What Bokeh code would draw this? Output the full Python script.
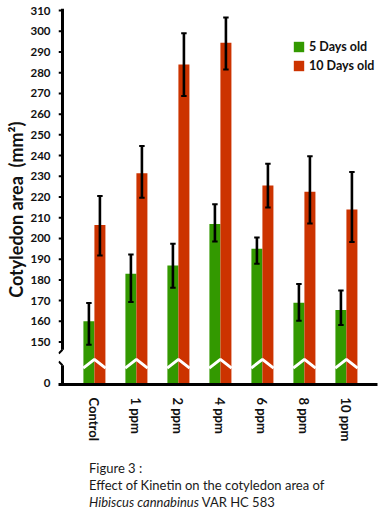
from bokeh.plotting import figure
from bokeh.models import FixedTicker, Legend, LegendItem, Div
from bokeh.layouts import column
from bokeh.embed import file_html
from bokeh.resources import INLINE

# ---------------- data ----------------
categories = ["Control", "1 ppm", "2 ppm", "4 ppm", "6 ppm", "8 ppm", "10 ppm"]
days5 = [160, 183, 187, 207, 195, 169, 165.5]
days5_low = [148.7, 169.3, 176.2, 198.5, 187.8, 160.3, 158.2]
days5_high = [168.8, 192.3, 197.5, 216.5, 200.5, 178, 174.9]
days10 = [206.5, 231.5, 284, 294.5, 225.5, 222.5, 214]
days10_low = [191.8, 219.7, 268.8, 281.5, 214.9, 207.2, 198.3]
days10_high = [220.5, 244.6, 299.1, 306.7, 236.1, 239.7, 232.1]
y_ticks = [150, 160, 170, 180, 190, 200, 210, 220, 230, 240, 250, 260, 270, 280, 290, 300, 310]
zero_pos = 130          # broken axis: position where "0" is shown

# ---------------- styling constants ----------------
GREEN = "#339900"
RED = "#cc3300"
BAR_W = 0.262
Y0, Y1 = 129.5, 311
X0, X1 = -0.855, 6.74
AXIS_X = -0.76
FONT = "Lato"
INK = "#111111"

p = figure(width=391, height=458, x_range=(X0, X1), y_range=(Y0, Y1),
           output_backend="svg", toolbar_location=None,
           min_border_left=58, min_border_right=14, min_border_top=8, min_border_bottom=74)
p.grid.visible = False
p.outline_line_color = None

xs = list(range(len(categories)))
x5 = [x - BAR_W / 2 for x in xs]
x10 = [x + BAR_W / 2 for x in xs]

r5 = p.vbar(x=x5, top=days5, bottom=Y0, width=BAR_W, fill_color=GREEN, line_color=None)
r10 = p.vbar(x=x10, top=days10, bottom=Y0, width=BAR_W, fill_color=RED, line_color=None)

# white zigzag break across each group
brk_lo, brk_hi = 137.4, 141.6
p.multi_line(xs=[[x - BAR_W - 0.005, x, x + BAR_W + 0.005] for x in xs],
             ys=[[brk_lo, brk_hi, brk_lo] for _ in xs], line_color="white", line_width=3)

# error bars
cap = 0.065
for xpos, lo, hi in ((x5, days5_low, days5_high), (x10, days10_low, days10_high)):
    p.segment(x0=xpos, x1=xpos, y0=lo, y1=hi, line_color="black", line_width=2.6)
    p.segment(x0=[x - cap for x in xpos], x1=[x + cap for x in xpos], y0=hi, y1=hi,
              line_color="black", line_width=2)
    p.segment(x0=[x - cap for x in xpos], x1=[x + cap for x in xpos], y0=lo, y1=lo,
              line_color="black", line_width=2)

# hand-drawn broken y axis
ax_break_top, ax_break_bot = 146.3, 138.8
p.segment(x0=[AXIS_X, AXIS_X], x1=[AXIS_X, AXIS_X], y0=[Y1, ax_break_bot], y1=[ax_break_top, Y0],
          line_color="black", line_width=3)
p.segment(x0=[AXIS_X, AXIS_X - 0.09], x1=[AXIS_X - 0.09, AXIS_X],
          y0=[ax_break_top, ax_break_bot + 1.8], y1=[ax_break_top - 1.8, ax_break_bot],
          line_color="black", line_width=2)
p.segment(x0=[X0] * len(y_ticks), x1=[AXIS_X] * len(y_ticks), y0=y_ticks, y1=y_ticks,
          line_color="black", line_width=2)

# y axis (labels only)
yax = p.yaxis[0]
yax.ticker = FixedTicker(ticks=[zero_pos] + y_ticks)
yax.major_label_overrides = {zero_pos: "0"}
yax.axis_line_color = None
yax.major_tick_line_color = None
yax.minor_tick_line_color = None
yax.major_label_standoff = 2
yax.major_label_text_font = FONT
yax.major_label_text_font_style = "bold"
yax.major_label_text_font_size = "11.5px"
yax.major_label_text_color = INK
yax.axis_label = "Cotyledon area\u00a0\u00a0(mm²)" + "\u00a0" * 6
yax.axis_label_text_font = FONT
yax.axis_label_text_font_style = "bold"
yax.axis_label_text_font_size = "18px"
yax.axis_label_standoff = 0
yax.axis_label_text_color = INK

# x axis
xax = p.xaxis[0]
xax.ticker = FixedTicker(ticks=xs)
xax.major_label_overrides = {i: c for i, c in zip(xs, categories)}
xax.major_label_orientation = -1.5708
xax.axis_line_width = 3
xax.axis_line_color = "black"
xax.major_tick_line_color = None
xax.minor_tick_line_color = None
xax.major_label_standoff = 7
xax.major_label_text_font = FONT
xax.major_label_text_font_style = "bold"
xax.major_label_text_font_size = "13px"
xax.major_label_text_color = INK

legend = Legend(items=[LegendItem(label="5 Days old", renderers=[r5]),
                       LegendItem(label="10 Days old", renderers=[r10])],
                location=(234, 311), padding=0, margin=0, spacing=4, glyph_width=13, glyph_height=13,
                label_height=13, label_standoff=4, border_line_color=None,
                background_fill_alpha=0, label_text_font=FONT, label_text_font_style="bold",
                label_text_font_size="12.5px", label_text_color=INK)
p.add_layout(legend)

caption = Div(text='<div style="font-family:Lato;font-size:13px;line-height:17px;color:#1a1a1a;">'
                   'Figure 3 :<br>Effect of Kinetin on the cotyledon area of<br>'
                   '<i>Hibiscus cannabinus</i> VAR HC 583</div>',
              width=290, height=54, margin=(2, 0, 0, 89))

layout = column(p, caption)
open("out.html", "w").write(file_html(layout, INLINE))
